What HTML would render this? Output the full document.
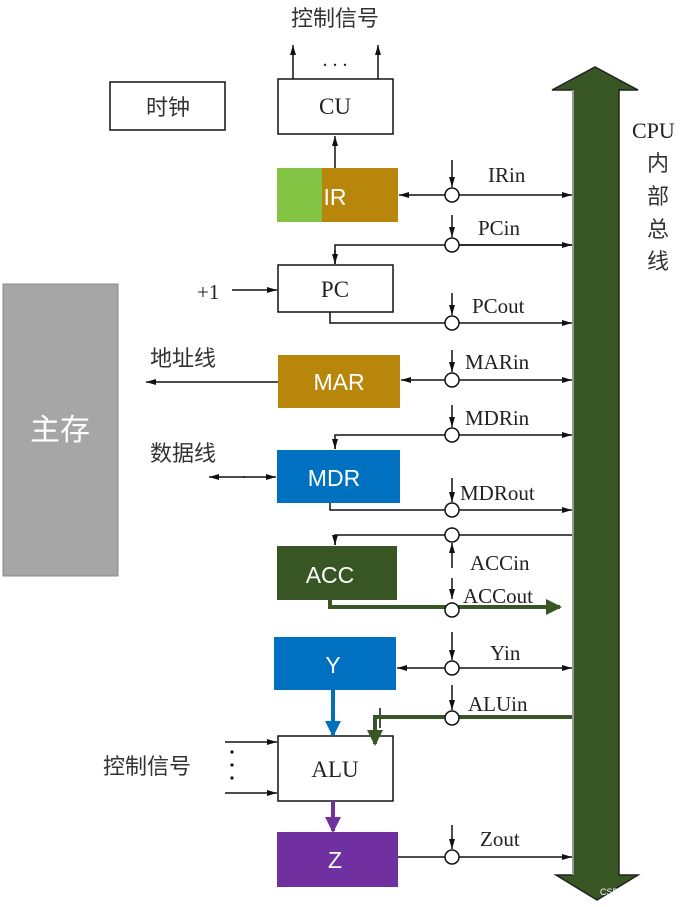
<!DOCTYPE html>
<html><head><meta charset="utf-8"><style>
html,body{margin:0;padding:0;background:#fff;}
svg{display:block;}
.s{font-family:"Liberation Serif","Noto Serif CJK SC",serif;fill:#222;}
.c{font-family:"Liberation Sans","Noto Sans CJK SC",sans-serif;fill:#333;}
.w{font-family:"Liberation Sans","Noto Sans CJK SC",sans-serif;fill:#fff;font-size:23px;}
</style></head><body>
<svg width="689" height="907" viewBox="0 0 689 907" xmlns="http://www.w3.org/2000/svg">
<defs>
<marker id="a" markerWidth="10" markerHeight="8" refX="10" refY="4" orient="auto" markerUnits="userSpaceOnUse"><path d="M0,1 L10,4 L0,7 Z" fill="#111"/></marker>
<marker id="g" markerWidth="16" markerHeight="16" refX="14" refY="8" orient="auto" markerUnits="userSpaceOnUse"><path d="M0,0 L16,8 L0,16 Z" fill="#375623"/></marker>
<marker id="b" markerWidth="16" markerHeight="16" refX="14" refY="8" orient="auto" markerUnits="userSpaceOnUse"><path d="M0,0 L16,8 L0,16 Z" fill="#0070c0"/></marker>
<marker id="p" markerWidth="16" markerHeight="16" refX="14" refY="8" orient="auto" markerUnits="userSpaceOnUse"><path d="M0,0 L16,8 L0,16 Z" fill="#7030a0"/></marker>
</defs>
<g stroke="#111" stroke-width="1.5" fill="none">
<path d="M573,90 L552,90 L595,67 L638,90 L619,90 L619,875 L638,875 L597,900 L556,875 L573,875 Z" fill="#375623" stroke="#222"/>
<line x1="573" y1="90" x2="573" y2="875" stroke="#999" stroke-width="2"/>
</g>
<rect x="3" y="284" width="115" height="292" fill="#a6a6a6" stroke="#888"/>
<text x="60" y="440" class="c" font-size="30" style="fill:#fff" text-anchor="middle">主存</text>
<g stroke="#111" stroke-width="1.5" fill="#fff">
<rect x="110" y="82" width="115" height="48"/>
<rect x="278" y="79" width="115" height="55"/>
<rect x="278" y="265" width="115" height="47"/>
<rect x="278" y="736" width="115" height="65"/>
</g>
<text x="168" y="115" class="c" font-size="22" text-anchor="middle">时钟</text>
<text x="335" y="114" class="s" font-size="23" text-anchor="middle">CU</text>
<text x="335" y="297" class="s" font-size="23" text-anchor="middle">PC</text>
<text x="335" y="777" class="s" font-size="23" text-anchor="middle">ALU</text>
<rect x="277" y="168" width="121" height="54" fill="#b8860b"/>
<rect x="277" y="168" width="45" height="54" fill="#84c444"/>
<text x="335" y="205" class="w" text-anchor="middle">IR</text>
<rect x="278" y="355" width="122" height="53" fill="#b8860b"/>
<text x="339" y="390" class="w" text-anchor="middle">MAR</text>
<rect x="277" y="450" width="123" height="53" fill="#0070c0"/>
<text x="334" y="486" class="w" text-anchor="middle">MDR</text>
<rect x="277" y="546" width="120" height="54" fill="#375623"/>
<text x="330" y="583" class="w" text-anchor="middle">ACC</text>
<rect x="274" y="637" width="122" height="53" fill="#0070c0"/>
<text x="333" y="673" class="w" text-anchor="middle">Y</text>
<rect x="277" y="832" width="121" height="55" fill="#7030a0"/>
<text x="335" y="868" class="w" text-anchor="middle">Z</text>
<text x="335" y="26" class="c" font-size="22" text-anchor="middle">控制信号</text>
<text x="335" y="66" class="s" font-size="20" text-anchor="middle">. . .</text>
<g stroke="#111" stroke-width="1.5" fill="none">
<line x1="293" y1="79" x2="293" y2="45" marker-end="url(#a)"/>
<line x1="378" y1="79" x2="378" y2="45" marker-end="url(#a)"/>
<line x1="335" y1="168" x2="335" y2="136" marker-end="url(#a)"/>
<line x1="232" y1="290" x2="277" y2="290" marker-end="url(#a)"/>
<line x1="278" y1="382" x2="146" y2="382" marker-end="url(#a)"/>
<line x1="243" y1="477" x2="276" y2="477" marker-end="url(#a)"/>
<line x1="245" y1="477" x2="209" y2="477" marker-end="url(#a)"/>
<line x1="225" y1="742" x2="277" y2="742" marker-end="url(#a)"/>
<line x1="225" y1="793" x2="277" y2="793" marker-end="url(#a)"/>
<line x1="445" y1="195" x2="399" y2="195" marker-end="url(#a)"/>
<line x1="459" y1="195" x2="572" y2="195" marker-end="url(#a)"/>
<polyline points="572,245 335,245 335,264" />
<line x1="335" y1="250" x2="335" y2="264" marker-end="url(#a)"/>
<line x1="459" y1="245" x2="572" y2="245" marker-end="url(#a)"/>
<polyline points="330,312 330,323 445,323"/>
<line x1="459" y1="323" x2="572" y2="323" marker-end="url(#a)"/>
<line x1="445" y1="380" x2="401" y2="380" marker-end="url(#a)"/>
<line x1="459" y1="380" x2="572" y2="380" marker-end="url(#a)"/>
<polyline points="445,435 335,435 335,449"/>
<line x1="335" y1="440" x2="335" y2="449" marker-end="url(#a)"/>
<line x1="459" y1="435" x2="572" y2="435" marker-end="url(#a)"/>
<polyline points="330,503 330,510 445,510"/>
<line x1="459" y1="510" x2="572" y2="510" marker-end="url(#a)"/>
<polyline points="572,535 335,535 335,545"/>
<line x1="335" y1="538" x2="335" y2="545" marker-end="url(#a)"/>
<line x1="445" y1="668" x2="397" y2="668" marker-end="url(#a)"/>
<line x1="459" y1="668" x2="572" y2="668" marker-end="url(#a)"/>
<line x1="398" y1="857" x2="445" y2="857"/>
<line x1="459" y1="857" x2="572" y2="857" marker-end="url(#a)"/>
<line x1="452" y1="160" x2="452" y2="187" marker-end="url(#a)"/>
<line x1="452" y1="215" x2="452" y2="237" marker-end="url(#a)"/>
<line x1="452" y1="293" x2="452" y2="315" marker-end="url(#a)"/>
<line x1="452" y1="350" x2="452" y2="372" marker-end="url(#a)"/>
<line x1="452" y1="405" x2="452" y2="427" marker-end="url(#a)"/>
<line x1="452" y1="478" x2="452" y2="502" marker-end="url(#a)"/>
<line x1="452" y1="568" x2="452" y2="543" marker-end="url(#a)"/>
<line x1="452" y1="578" x2="452" y2="599" marker-end="url(#a)"/>
<line x1="452" y1="632" x2="452" y2="660" marker-end="url(#a)"/>
<line x1="452" y1="685" x2="452" y2="710" marker-end="url(#a)"/>
<line x1="452" y1="825" x2="452" y2="849" marker-end="url(#a)"/>
<line x1="380" y1="708" x2="380" y2="728"/>
</g>
<g fill="none" stroke-width="4">
<polyline points="330,600 330,607 560,607" stroke="#375623" marker-end="url(#g)"/>
<polyline points="572,717 375,717 375,744" stroke="#375623" marker-end="url(#g)"/>
<line x1="333" y1="690" x2="333" y2="735" stroke="#0070c0" marker-end="url(#b)"/>
<line x1="333" y1="801" x2="333" y2="831" stroke="#7030a0" marker-end="url(#p)"/>
</g>
<g fill="#fff" stroke="#111" stroke-width="1.5">
<circle cx="452" cy="195" r="7"/><circle cx="452" cy="245" r="7"/><circle cx="452" cy="323" r="7"/>
<circle cx="452" cy="380" r="7"/><circle cx="452" cy="435" r="7"/><circle cx="452" cy="510" r="7"/>
<circle cx="452" cy="535" r="7"/><circle cx="452" cy="610" r="7"/><circle cx="452" cy="668" r="7"/>
<circle cx="452" cy="718" r="7"/><circle cx="452" cy="857" r="7"/>
</g>
<g class="s" font-size="21">
<text x="488" y="182">IRin</text>
<text x="478" y="235">PCin</text>
<text x="472" y="313">PCout</text>
<text x="465" y="369">MARin</text>
<text x="465" y="425">MDRin</text>
<text x="460" y="500">MDRout</text>
<text x="470" y="570">ACCin</text>
<text x="463" y="603">ACCout</text>
<text x="490" y="660">Yin</text>
<text x="468" y="711">ALUin</text>
<text x="480" y="846">Zout</text>
<text x="197" y="299">+1</text>
<text x="632" y="138" font-size="22">CPU</text>
</g>
<g class="c" font-size="22">
<text x="658" y="171" text-anchor="middle">内</text>
<text x="658" y="204" text-anchor="middle">部</text>
<text x="658" y="237" text-anchor="middle">总</text>
<text x="658" y="269" text-anchor="middle">线</text>
<text x="150" y="366">地址线</text>
<text x="150" y="461">数据线</text>
<text x="103" y="774">控制信号</text>
</g>
<g fill="#111"><circle cx="232" cy="752" r="1.6"/><circle cx="232" cy="765" r="1.6"/><circle cx="232" cy="778" r="1.6"/></g>
<text x="600" y="895" font-family="Liberation Sans,sans-serif" font-size="9" fill="#fff">CSDN @iFulling</text>
</svg>
</body></html>
